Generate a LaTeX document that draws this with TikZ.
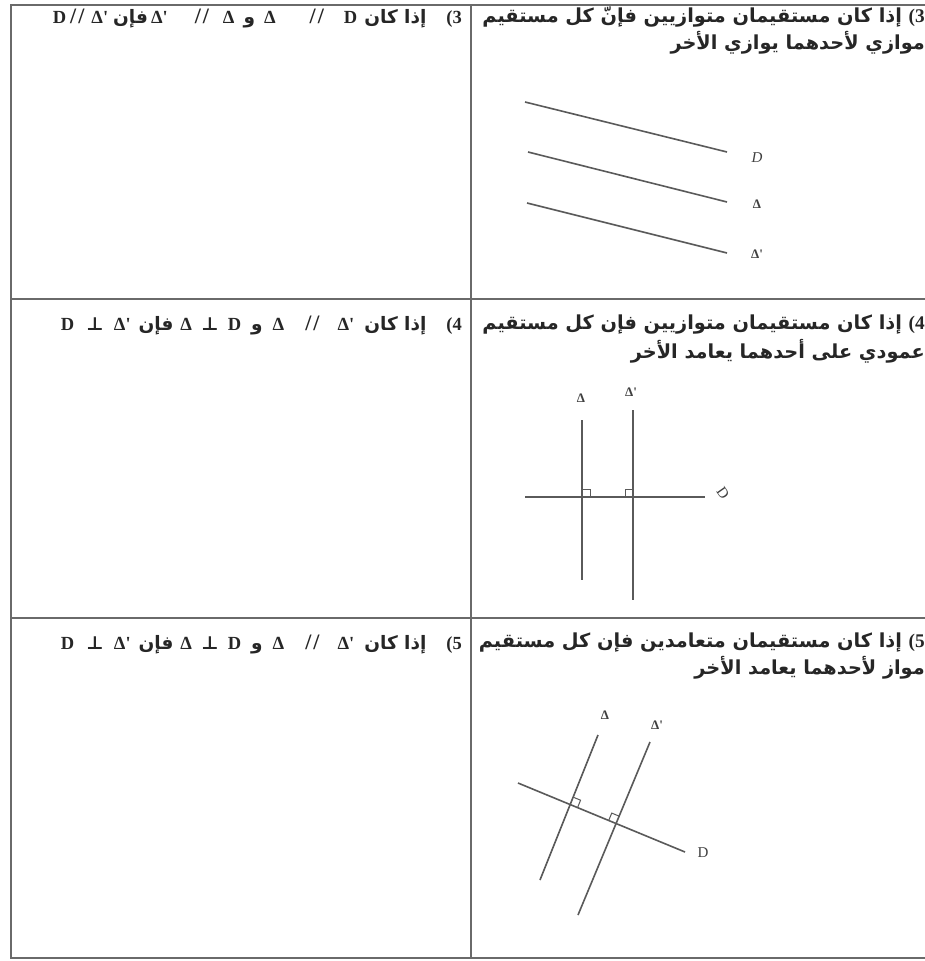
\documentclass[tikz,border=0pt]{standalone}
\usepackage{fontspec}
\TeXXeTstate=1
\newfontfamily\arabicfont[Script=Arabic]{DejaVu Sans}
\newfontfamily\latinfont{Liberation Serif}
\newfontfamily\symfont{DejaVu Serif}
\usetikzlibrary{intersections,calc}
\definecolor{gridcol}{HTML}{6A6A6A}
\definecolor{linecol}{HTML}{5A5A5A}
\newcommand{\Lt}[1]{\beginL{\latinfont\bfseries #1}\endL}
\newcommand{\Sl}{\beginL{\latinfont\bfseries\fontsize{22}{24}\selectfont /\hspace{2pt}/}\endL}
\newcommand{\Perp}{\beginL{\symfont\bfseries ⊥}\endL}
\newcommand{\gp}[1]{\hspace*{#1pt}}
\begin{document}
\begin{tikzpicture}[x=1pt,y=-1pt,
  gridline/.style={draw=gridcol,line width=1.5pt},
  geoline/.style={draw=linecol,line width=1.6pt},
  rightmark/.style={draw=linecol,line width=1pt},
  celltext/.style={inner sep=0pt,font=\arabicfont\bfseries\fontsize{18.5}{24}\selectfont,text=black!85},
  proptext/.style={inner sep=0pt,font=\arabicfont\bfseries\fontsize{19.3}{24}\selectfont,text=black!85},
  lbl/.style={inner sep=0pt,font=\latinfont\bfseries\fontsize{13}{14}\selectfont,text=black!75}]
\useasboundingbox (0,0) rectangle (925,961);
\fill[white] (0,0) rectangle (925,961);
% table
\coordinate (tl) at (11,5);
\coordinate (tr) at (925,5);
\coordinate (bl) at (11,958);
\coordinate (br) at (925,958);
\coordinate (ct) at (471,5);
\coordinate (cb) at (471,958);
\coordinate (r1l) at (11,299);
\coordinate (r1r) at (925,299);
\coordinate (r2l) at (11,618);
\coordinate (r2r) at (925,618);
\draw[gridline] (tr) -- (tl) -- (bl) -- (br);
\draw[gridline] (ct) -- (cb);
\draw[gridline] (r1l) -- (r1r);
\draw[gridline] (r2l) -- (r2r);

% ---- left column texts
\node[celltext,anchor=east] (L1) at (462,19)
 {\beginR\Lt{(3}\gp{20}إذا كان\gp{7}\Lt{D}\gp{20}\Sl\gp{34}\Lt{Δ}\gp{9}و\gp{9}\Lt{Δ}\gp{14}\Sl\gp{27}\Lt{Δ'}\gp{3}فإن\gp{5}\Lt{Δ'}\gp{7}\Sl\gp{4}\Lt{D}\endR};
\node[celltext,anchor=east] (L2) at (462,326)
 {\beginR\Lt{(4}\gp{20}إذا كان\gp{10}\Lt{Δ'}\gp{18}\Sl\gp{21}\Lt{Δ}\gp{10}و\gp{10}\Lt{D}\gp{9}\Perp\gp{9}\Lt{Δ}\gp{7}فإن\gp{8}\Lt{Δ'}\gp{10}\Perp\gp{12}\Lt{D}\endR};
\node[celltext,anchor=east] (L3) at (462,645)
 {\beginR\Lt{(5}\gp{20}إذا كان\gp{10}\Lt{Δ'}\gp{18}\Sl\gp{21}\Lt{Δ}\gp{10}و\gp{10}\Lt{D}\gp{9}\Perp\gp{9}\Lt{Δ}\gp{7}فإن\gp{8}\Lt{Δ'}\gp{10}\Perp\gp{12}\Lt{D}\endR};

% ---- right column texts
\node[proptext,anchor=east] (R1a) at (925,17)
 {\beginR\Lt{(3}\ إذا كان مستقيمان متوازيين فإنّ كل مستقيم\endR};
\node[proptext,anchor=east] (R1b) at (925,43)
 {\beginR موازي لأحدهما يوازي الأخر\endR};
\node[proptext,anchor=east] (R2a) at (925,325)
 {\beginR\Lt{(4}\ إذا كان مستقيمان متوازيين فإن كل مستقيم\endR};
\node[proptext,anchor=east] (R2b) at (925,351)
 {\beginR عمودي على أحدهما يعامد الأخر\endR};
\node[proptext,anchor=east] (R3a) at (925,643)
 {\beginR\Lt{(5}\ إذا كان مستقيمان متعامدين فإن كل مستقيم\endR};
\node[proptext,anchor=east] (R3b) at (925,668)
 {\beginR مواز لأحدهما يعامد الأخر\endR};

% ---- figure 1 : three parallel lines
\coordinate (D1a) at (525,102);  \coordinate (D1b) at (727,152);
\coordinate (A1a) at (528,152);  \coordinate (A1b) at (727,202);
\coordinate (B1a) at (527,203);  \coordinate (B1b) at (727,253);
\draw[geoline] (D1a) -- (D1b);
\draw[geoline] (A1a) -- (A1b);
\draw[geoline] (B1a) -- (B1b);
\node[lbl,font=\latinfont\itshape\fontsize{15}{16}\selectfont] (lD1) at (757,158) {D};
\node[lbl] (lA1) at (757,204) {Δ};
\node[lbl] (lB1) at (757,254) {Δ'};

% ---- figure 2 : perpendiculars
\coordinate (A2t) at (582,420);  \coordinate (A2b) at (582,580);
\coordinate (B2t) at (633,410);  \coordinate (B2b) at (633,600);
\coordinate (D2l) at (525,497);  \coordinate (D2r) at (705,497);
\draw[geoline] (A2t) -- (A2b);
\draw[geoline] (B2t) -- (B2b);
\draw[geoline] (D2l) -- (D2r);
\coordinate (I2a) at (582,497);
\coordinate (I2b) at (633,497);
\draw[rightmark] ($(I2a)+(0,-8)$) -- ($(I2a)+(8,-8)$) -- ($(I2a)+(8,0)$);
\draw[rightmark] ($(I2b)+(0,-8)$) -- ($(I2b)+(-8,-8)$) -- ($(I2b)+(-8,0)$);
\node[lbl] (lA2) at (581,398) {Δ};
\node[lbl] (lB2) at (631,392) {Δ'};
\node[lbl,rotate=-55,font=\latinfont\fontsize{15}{16}\selectfont] (lD2) at (723,493) {D};

% ---- figure 3 : oblique
\coordinate (A3t) at (598,735);  \coordinate (A3b) at (540,880);
\coordinate (B3t) at (650,742);  \coordinate (B3b) at (578,915);
\coordinate (D3l) at (518,783);  \coordinate (D3r) at (685,852);
\draw[geoline,name path=pA3] (A3t) -- (A3b);
\draw[geoline,name path=pB3] (B3t) -- (B3b);
\draw[geoline,name path=pD3] (D3l) -- (D3r);
\path[name intersections={of=pA3 and pD3,by=I3a}];
\path[name intersections={of=pB3 and pD3,by=I3b}];
\coordinate (m1) at ($(I3a)!8pt!(D3r)$);
\coordinate (m2) at ($(I3a)!8pt!(A3t)$);
\draw[rightmark] (m1) -- ($(m1)+(m2)-(I3a)$) -- (m2);
\coordinate (m3) at ($(I3b)!8pt!(D3l)$);
\coordinate (m4) at ($(I3b)!8pt!(B3t)$);
\draw[rightmark] (m3) -- ($(m3)+(m4)-(I3b)$) -- (m4);
\node[lbl] (lA3) at (605,715) {Δ};
\node[lbl] (lB3) at (657,725) {Δ'};
\node[lbl,font=\latinfont\fontsize{15}{16}\selectfont] (lD3) at (703,853) {D};
\end{tikzpicture}
\end{document}
